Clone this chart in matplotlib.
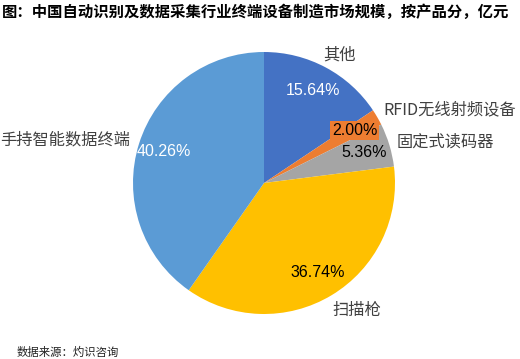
import matplotlib
matplotlib.use('Agg')
import matplotlib.pyplot as plt

plt.rcParams['font.family'] = ['Noto Sans CJK SC', 'DejaVu Sans']

categories = ['其他', 'RFID无线射频设备', '固定式读码器', '扫描枪', '手持智能数据终端']
shares = [15.64, 2.00, 5.36, 36.74, 40.26]
colors = ['#4472C4', '#ED7D31', '#A5A5A5', '#FFC000', '#5B9BD5']
pct_colors = ['white', 'black', 'black', 'black', 'white']

title = '图：中国自动识别及数据采集行业终端设备制造市场规模，按产品分，亿元'
source = '数据来源：灼识咨询'

# label anchors in pixel space (x from left, y from top) and alignment
label_pos = [(340, 55, 'center'), (383, 110, 'left'), (397, 142, 'left'),
             (332, 310, 'left'), (130, 140, 'right')]

W, H = 520, 359
fig = plt.figure(figsize=(W / 100, H / 100), dpi=100)
ax = fig.add_axes([0, 0, 1, 1])

cx, cy, r = 264, H - 183, 131
wedges, texts, autotexts = ax.pie(
    shares, colors=colors, startangle=90, counterclock=False,
    center=(cx, cy), radius=r, autopct='%.2f%%', pctdistance=0.8,
    wedgeprops=dict(linewidth=0),
    textprops=dict(family=['Liberation Sans', 'DejaVu Sans'], fontsize=11.5))

for t, c in zip(autotexts, pct_colors):
    t.set_color(c)
autotexts[1].set_bbox(dict(boxstyle='square,pad=0.12', fc='#ED7D31', ec='none'))

for name, (px, py, ha) in zip(categories, label_pos):
    ax.text(px, H - py, name, ha=ha, va='center', fontsize=11.7, color='#404040')

ax.set_xlim(0, W)
ax.set_ylim(0, H)
ax.set_aspect('auto')
ax.axis('off')

fig.text(2 / W, 1 - 12 / H, title, ha='left', va='center', fontsize=11.05,
         fontweight='bold', color='black')
fig.text(17 / W, 1 - 352 / H, source, ha='left', va='center', fontsize=8.2,
         color='#222222')

fig.savefig('out.png', dpi=100)
